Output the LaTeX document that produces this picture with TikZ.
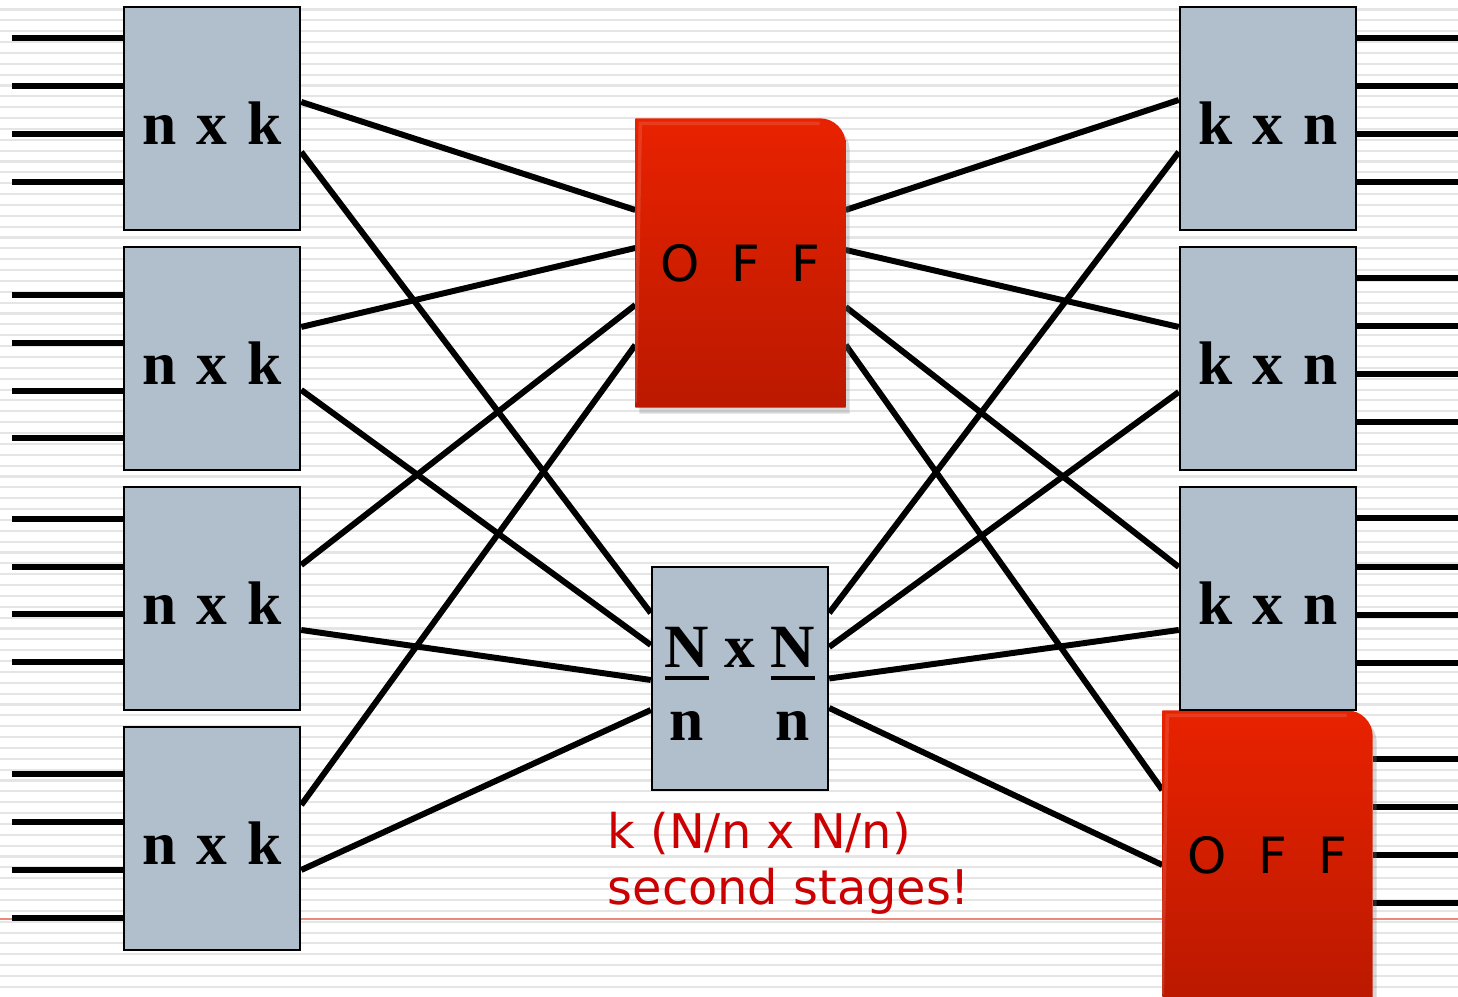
\documentclass[tikz,border=0pt]{standalone}
\usepackage{fontspec}
\setmainfont{Liberation Serif}
\newfontfamily\offfont{DejaVu Sans}
\usetikzlibrary{positioning, calc, shadows}

\definecolor{boxgray}{RGB}{177,191,205}
\definecolor{offtop}{RGB}{232,34,0}
\definecolor{offbot}{RGB}{187,25,0}
\definecolor{stagered}{RGB}{204,0,0}
\definecolor{stripegray}{RGB}{229,229,229}
\definecolor{rulered}{RGB}{233,138,122}

\pgfdeclarelayer{stripes}
\pgfdeclarelayer{wires}
\pgfdeclarelayer{plates}
\pgfsetlayers{stripes,wires,plates,main}

% N over a thick bar, baseline kept on the letter
\newcommand{\barred}[1]{\vtop{\hbox{#1}\kern2.6pt\hrule height 0.95pt}}
% a little more room between n, x and k
\newcommand{\widegaps}{\spaceskip 0.32em\relax}

\tikzset{
  stage/.style={draw=black, line width=0.7pt, fill=boxgray, minimum width=1.76cm,
    minimum height=2.23cm, inner sep=0pt, font=\fontsize{17.5}{21}\selectfont\bfseries},
  outer/.style={stage, text height=5.3mm, font=\fontsize{17.5}{21}\selectfont\bfseries\widegaps},
  offbox/.style={minimum width=2.09cm, minimum height=2.88cm, inner sep=0pt,
    font=\offfont\fontsize{14.2}{17}\selectfont},
  wire/.style={line width=1.7pt},
  note/.style={text=stagered, align=left, inner sep=0pt,
    font=\offfont\fontsize{13.6}{16.2}\selectfont},
}

% red plate behind an OFF node, rounded at the upper right
\newcommand{\offplate}[1]{%
  \shade[top color=offtop, bottom color=offbot,
    drop shadow={opacity=0.3, shadow xshift=0.4mm, shadow yshift=-0.6mm}]
    (#1.south west) -- (#1.north west) -- ([xshift=-2.6mm]#1.north east)
    arc[start angle=90, end angle=0, radius=2.6mm] -- (#1.south east) -- cycle;
  \draw[white, opacity=0.12, line width=1pt]
    ([yshift=0.5mm]#1.south west) -- ([xshift=0.5mm,yshift=-0.5mm]#1.north west)
    -- ([xshift=-2.6mm,yshift=-0.5mm]#1.north east);}

\begin{document}
\begin{tikzpicture}
    \useasboundingbox (0,0) rectangle (14.58,9.97);

    % ruled paper
    \begin{pgfonlayer}{stripes}
        \fill[white] (0,0) rectangle (14.58,9.97);
        \foreach \k in {0,...,90}
            \draw[stripegray, line width=0.6pt] (0,{9.875-0.1086*\k}) -- (14.58,{9.875-0.1086*\k});
        \draw[rulered, line width=0.6pt] (0,0.78) -- (14.58,0.78);
    \end{pgfonlayer}

    % first stage
    \node[outer] (lb1) at (2.12,8.785) {n x k};
    \node[outer] (lb2) at (2.12,6.385) {n x k};
    \node[outer] (lb3) at (2.12,3.985) {n x k};
    \node[outer] (lb4) at (2.12,1.585) {n x k};

    % last stage
    \node[outer] (rb1) at (12.68,8.785) {k x n};
    \node[outer] (rb2) at (12.68,6.385) {k x n};
    \node[outer] (rb3) at (12.68,3.985) {k x n};

    % middle stage
    \node[offbox] (off1) at (7.405,7.34) {O\ \ F\ \ F};
    \node[stage, text height=15pt, text depth=21.5pt] (mid) at (7.40,3.185)
        {\begin{tabular}[t]{@{}c@{\ }c@{\ }c@{}}\barred{N} & x & \barred{N}\\ n & & n\end{tabular}};
    \node[offbox] (off2) at (12.675,1.42) {O\ \ F\ \ F};

    \node[note, anchor=base west] (count) at (6.07,0.92) {k (N/n x N/n)\\second stages!};

    \begin{pgfonlayer}{plates}
        \offplate{off1}
        \offplate{off2}
    \end{pgfonlayer}

    \begin{pgfonlayer}{wires}
        % inputs and outputs
        \foreach \b/\y in {lb1/9.59, lb1/9.11, lb1/8.63, lb1/8.15, lb2/7.02, lb2/6.54, lb2/6.06, lb2/5.59,
                           lb3/4.78, lb3/4.30, lb3/3.83, lb3/3.35, lb4/2.23, lb4/1.75, lb4/1.27, lb4/0.79}
            \draw[wire] (0.12,\y) -- (\b.west |- 0,\y);
        \foreach \b/\y in {rb1/9.59, rb1/9.11, rb1/8.63, rb1/8.15, rb2/7.19, rb2/6.71, rb2/6.23, rb2/5.75,
                           rb3/4.79, rb3/4.30, rb3/3.82, rb3/3.34, off2/2.38, off2/1.90, off2/1.42, off2/0.94}
            \draw[wire] (\b.east |- 0,\y) -- (14.58,\y);

        % first stage to middle stage
        \draw[wire] ([yshift=1.65mm]lb1.east) -- ([yshift=5.3mm]off1.west);
        \draw[wire] ([yshift=-3.35mm]lb1.east) -- ([yshift=6.55mm]mid.west);
        \draw[wire] ([yshift=3.15mm]lb2.east) -- ([yshift=1.5mm]off1.west);
        \draw[wire] ([yshift=-3.15mm]lb2.east) -- ([yshift=3.35mm]mid.west);
        \draw[wire] ([yshift=3.35mm]lb3.east) -- ([yshift=-4.2mm]off1.west);
        \draw[wire] ([yshift=-3.15mm]lb3.east) -- ([yshift=-0.15mm]mid.west);
        \draw[wire] ([yshift=3.35mm]lb4.east) -- ([yshift=-8.2mm]off1.west);
        \draw[wire] ([yshift=-3.15mm]lb4.east) -- ([yshift=-3.15mm]mid.west);

        % middle stage to last stage
        \draw[wire] ([yshift=5.3mm]off1.east) -- ([yshift=1.85mm]rb1.west);
        \draw[wire] ([yshift=1.3mm]off1.east) -- ([yshift=3.15mm]rb2.west);
        \draw[wire] ([yshift=-4.4mm]off1.east) -- ([yshift=3.15mm]rb3.west);
        \draw[wire] ([yshift=-8.2mm]off1.east) -- ([yshift=6.5mm]off2.west);
        \draw[wire] ([yshift=6.55mm]mid.east) -- ([yshift=-3.35mm]rb1.west);
        \draw[wire] ([yshift=3.15mm]mid.east) -- ([yshift=-3.35mm]rb2.west);
        \draw[wire] (mid.east) -- ([yshift=-3.15mm]rb3.west);
        \draw[wire] ([yshift=-2.95mm]mid.east) -- ([yshift=-1mm]off2.west);
    \end{pgfonlayer}
\end{tikzpicture}
\end{document}
